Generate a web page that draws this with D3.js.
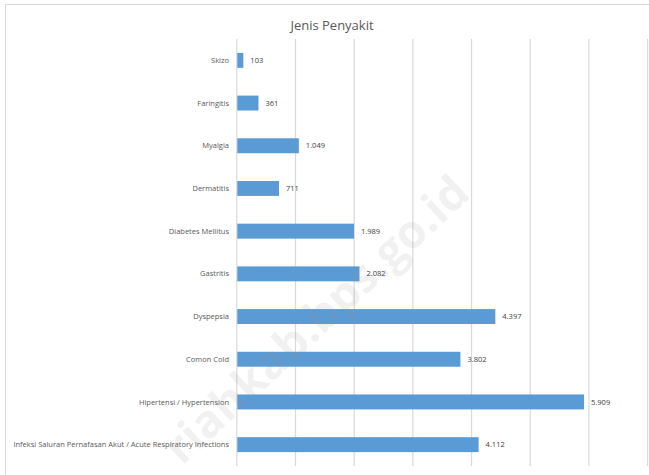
<!DOCTYPE html>
<html><head><meta charset="utf-8">
<script src="https://cdn.jsdelivr.net/npm/d3@7"></script>
<style>body{margin:0;background:#fff;}svg{display:block;}</style>
</head><body>
<svg id="c" width="649" height="475"></svg>
<script>
const categories = ["Skizo","Faringitis","Myalgia","Dermatitis","Diabetes Mellitus","Gastritis","Dyspepsia","Comon Cold","Hipertensi / Hypertension","Infeksi Saluran Pernafasan Akut / Acute Respiratory Infections"];
const values = [103,361,1049,711,1989,2082,4397,3802,5909,4112];
const xTicks = [0,1000,2000,3000,4000,5000,6000,7000];
const title = "Jenis Penyakit";
const watermark = "riahkab.bps.go.id";

const svg = d3.select("#c");
const font = "Open Sans, sans-serif";
// chart border
svg.append("rect").attr("x",5.5).attr("y",4.5).attr("width",660).attr("height",490)
  .attr("fill","#fff").attr("stroke","#d9d9d9").attr("stroke-width",1);

const x = d3.scaleLinear().domain([0,7000]).range([236.8,647.6]);
const y = d3.scaleBand().domain(categories).range([39,466]).paddingInner(0.65).paddingOuter(0.325);

// gridlines
svg.append("g").selectAll("line").data(xTicks).join("line")
  .attr("x1",d=>x(d)).attr("x2",d=>x(d)).attr("y1",39).attr("y2",466)
  .attr("stroke","#d9d9d9").attr("stroke-width",1.2);

svg.append("text").attr("x",332).attr("y",30).attr("text-anchor","middle")
  .attr("font-family",font).attr("font-size",13).attr("fill","#595959").text(title);

svg.append("g").selectAll("rect").data(values).join("rect")
  .attr("x",x(0)+0.5).attr("y",(d,i)=>y(categories[i]))
  .attr("width",d=>x(d)-x(0)).attr("height",y.bandwidth())
  .attr("fill","#5b9bd5");

const fmt = d3.formatLocale({decimal:",",thousands:".",grouping:[3],currency:["",""]}).format(",d");

svg.append("g").selectAll("text").data(values).join("text")
  .attr("x",d=>x(d)+7.5).attr("y",(d,i)=>y(categories[i])+y.bandwidth()/2)
  .attr("dy","0.35em").attr("font-family",font).attr("font-size",7.5).attr("fill","#404040")
  .text(d=>fmt(d));

svg.append("g").selectAll("text").data(categories).join("text")
  .attr("x",229).attr("y",d=>y(d)+y.bandwidth()/2).attr("text-anchor","end")
  .attr("dy","0.35em").attr("font-family",font).attr("font-size",7.5).attr("fill","#595959")
  .text(d=>d);

// watermark
svg.append("text").attr("transform","translate(472,196) rotate(-43)")
  .attr("text-anchor","end").attr("font-family",font).attr("font-weight","bold")
  .attr("font-size",46).attr("fill","#909090").attr("fill-opacity",0.13).text(watermark);
</script>
</body></html>
